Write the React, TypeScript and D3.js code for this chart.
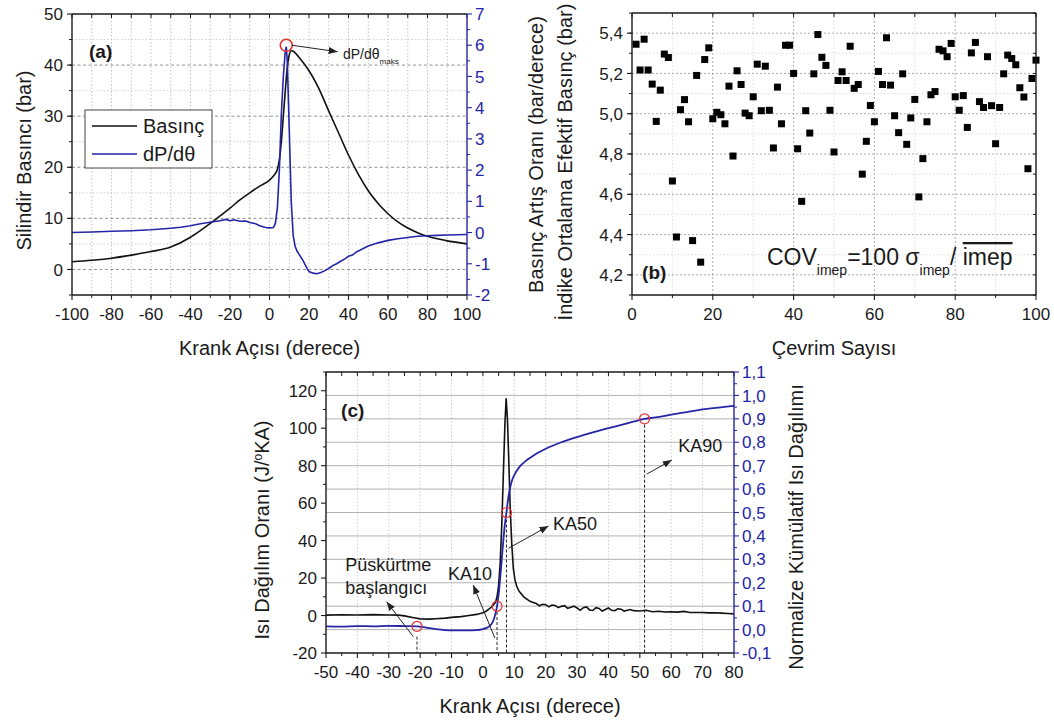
import React from "react";
import * as d3 from "d3";

const FONT = "'Liberation Sans', Arial, Helvetica, sans-serif";
const BLUE = "#2525a8";
const RED = "#e3342f";
const INK = "#1a1a1a";

const locale = d3.formatLocale({ decimal: ",", thousands: ".", grouping: [3], currency: ["", ""], minus: "-" });
const fmtInt = locale.format("d");
const fmt1 = locale.format(".1f");

// ---------- Panel (a): cylinder pressure & dP/dθ ----------
const aCrankP = [-100, -90, -80, -70, -60, -50, -40, -35, -30, -25, -20, -15, -10, -5, 0, 2, 3, 4, 5, 6, 7, 8, 9, 10, 11, 12, 13, 15, 18, 20, 25, 30, 35, 40, 45, 50, 55, 60, 65, 70, 75, 80, 85, 90, 95, 100];
const aPressure = [1.5, 1.8, 2.2, 2.8, 3.5, 4.4, 6.3, 7.6, 9.0, 10.5, 12.0, 13.6, 15.0, 16.3, 17.5, 18.3, 18.8, 19.6, 21.5, 25, 30, 35, 39.5, 42, 42.8, 42.7, 42.4, 41.5, 40.0, 38.9, 35.4, 31.0, 26.7, 22.4, 18.6, 15.4, 12.9, 10.9, 9.3, 8.1, 7.2, 6.5, 6.0, 5.6, 5.3, 5.0];
const aCrankD = [-100, -90, -80, -70, -60, -50, -45, -40, -35, -30, -27, -25, -22, -20, -18, -15, -12, -10, -7, -5, -2, 0, 2, 3, 4, 5, 6, 7, 8, 8.5, 9, 10, 11, 12, 13, 14, 15, 17, 19, 20, 22, 24, 26, 28, 30, 32, 34, 36, 38, 40, 42, 44, 46, 50, 55, 60, 65, 70, 75, 80, 85, 90, 95, 100];
const aRate = [0.0, 0.02, 0.04, 0.06, 0.09, 0.14, 0.17, 0.22, 0.28, 0.33, 0.36, 0.38, 0.42, 0.38, 0.41, 0.36, 0.37, 0.32, 0.28, 0.22, 0.16, 0.15, 0.16, 0.3, 0.8, 2.0, 3.8, 5.0, 5.8, 5.95, 5.5, 3.3, 1.0, -0.1, -0.45, -0.6, -0.7, -0.9, -1.15, -1.25, -1.3, -1.32, -1.28, -1.22, -1.15, -1.06, -1.0, -0.92, -0.85, -0.76, -0.72, -0.62, -0.56, -0.43, -0.33, -0.25, -0.2, -0.16, -0.12, -0.1, -0.09, -0.08, -0.07, -0.06];
const aPeak = { x: 8.5, v: 6.0 };

// ---------- Panel (b): imep per cycle ----------
const bImep = [5.345, 5.217, 5.37, 5.217, 5.147, 4.962, 5.117, 5.296, 5.279, 4.666,
  4.388, 5.02, 5.07, 4.96, 4.37, 5.19, 4.263, 5.269, 5.327, 4.975,
  5.007, 4.995, 4.95, 5.137, 4.79, 5.213, 5.145, 5.003, 4.99, 5.084,
  5.246, 5.015, 5.236, 5.017, 4.83, 5.132, 4.95, 5.34, 5.34, 5.2,
  4.826, 4.565, 5.015, 4.904, 5.198, 5.393, 5.28, 5.24, 5.017, 4.81,
  5.165, 5.208, 5.165, 5.335, 5.126, 5.145, 4.70, 4.863, 5.041, 4.96,
  5.21, 5.145, 5.377, 5.142, 4.99, 4.906, 5.198, 4.848, 4.979, 5.071,
  4.587, 4.777, 4.96, 5.094, 5.11, 5.32, 5.312, 5.283, 5.349, 5.084,
  5.017, 5.09, 4.932, 5.302, 5.354, 5.06, 5.031, 5.283, 5.04, 4.851,
  5.031, 5.198, 5.291, 5.274, 5.243, 5.129, 5.083, 4.727, 5.175, 5.266];

// ---------- Panel (c): heat release ----------
const cCrankH = [-50, -45, -40, -35, -30, -27, -25, -22, -20, -17, -15, -12, -10, -7, -5, -2, 0, 1, 2, 3,
  4, 4.5, 5, 5.5, 6, 6.5, 7, 7.4, 7.8, 8.2, 8.7, 9.2, 9.7, 10.2, 10.8, 11.5, 12, 13, 14,
  15, 16, 17, 18, 19, 20, 21, 22, 23, 24, 25, 26, 27, 28, 29, 30, 31, 32, 33, 34, 35, 36, 37, 38, 39, 40, 41, 42, 43, 44, 45, 46, 47, 48,
  50, 52, 54, 56, 58, 60, 62, 64, 66, 68, 70, 72, 74, 76, 78, 80];
const cHrr = [0.2, 0.4, 0.3, 0.5, 0.3, 0.2, -0.2, -1.2, -1.8, -1.9, -1.7, -1.4, -1.0, -0.6, -0.1, 0.6, 1.5, 2.3, 3.5, 5.0,
  7, 10, 16, 28, 48, 75, 102, 116, 105, 85, 57, 38, 25, 19, 15.5, 13, 12, 10, 8.8,
  7.6, 7.0, 6.4, 5.2, 6.0, 5.8, 4.6, 5.6, 5.4, 4.2, 4.9, 5.3, 3.8, 4.4, 5.0, 4.0, 2.8, 4.2, 4.6, 3.0, 2.7, 4.2, 3.8, 2.4, 3.2, 4.0, 2.8, 2.6, 3.6, 3.4, 2.4, 2.8, 3.2, 2.6,
  2.4, 2.8, 2.0, 2.3, 1.9, 2.0, 1.8, 2.2, 1.6, 1.6, 1.6, 1.4, 1.5, 1.3, 1.1, 0.9];
const cCrankQ = [-50, -45, -40, -35, -30, -25, -21, -18, -15, -12, -10, -5, -2, 0, 1, 2, 3, 3.5, 4, 4.5, 5, 5.5, 6, 6.5, 7, 7.5, 8, 8.5, 9, 9.5, 10, 11, 12, 14, 16, 18, 20, 25, 30, 35, 40, 45, 51.5, 55, 60, 65, 70, 75, 80];
const cCum = [0.014, 0.013, 0.015, 0.014, 0.016, 0.015, 0.014, 0.008, 0.002, -0.002, -0.003, -0.003, -0.002, 0.002, 0.006, 0.014, 0.03, 0.045, 0.068, 0.1, 0.15, 0.22, 0.3, 0.38, 0.45, 0.5, 0.555, 0.595, 0.625, 0.645, 0.66, 0.683, 0.70, 0.724, 0.742, 0.758, 0.772, 0.80, 0.822, 0.842, 0.86, 0.877, 0.9, 0.906, 0.918, 0.929, 0.94, 0.948, 0.956];
const cMarkX = [-21, 4.5, 7.5, 51.5];
const cMarkC = [0.014, 0.1, 0.5, 0.9];
const cDropTop = [-0.03, 0.075, 0.47, 0.875];

// ---------- layout ----------
const PA = { l: 72, r: 467, t: 14, b: 295 };
const PB = { l: 632, r: 1036, t: 13, b: 295 };
const PC = { l: 326, r: 734, t: 372, b: 653 };

const ax = d3.scaleLinear().domain([-100, 100]).range([PA.l, PA.r]);
const ayL = d3.scaleLinear().domain([-5, 50]).range([PA.b, PA.t]);
const ayR = d3.scaleLinear().domain([-2, 7]).range([PA.b, PA.t]);
const bx = d3.scaleLinear().domain([0, 100]).range([PB.l, PB.r]);
const by = d3.scaleLinear().domain([4.1, 5.5]).range([PB.b, PB.t]);
const cx = d3.scaleLinear().domain([-50, 80]).range([PC.l, PC.r]);
const cyL = d3.scaleLinear().domain([-20, 130]).range([PC.b, PC.t]);
const cyR = d3.scaleLinear().domain([-0.1, 1.1]).range([PC.b, PC.t]);

function rng(a: number, b: number, s: number) {
  const out: number[] = [];
  const n = Math.round((b - a) / s);
  for (let i = 0; i <= n; i++) out.push(+(a + i * s).toFixed(6));
  return out;
}

type S = d3.ScaleLinear<number, number>;

function BottomAxis({ x, y, major, minor, fmt }: { x: S; y: number; major: number[]; minor: number[]; fmt: (v: number) => string }) {
  const [x0, x1] = x.range();
  return (
    <g>
      {minor.map((v) => <line key={"m" + v} x1={x(v)} x2={x(v)} y1={y} y2={y + 3} stroke={INK} strokeWidth={1} />)}
      {major.map((v) => <line key={"M" + v} x1={x(v)} x2={x(v)} y1={y} y2={y + 5} stroke={INK} strokeWidth={1.1} />)}
      <line x1={x0} x2={x1} y1={y} y2={y} stroke={INK} strokeWidth={1.4} />
      {major.map((v) => <text key={"t" + v} x={x(v)} y={y + 25} textAnchor="middle" fontSize={17} fill={INK}>{fmt(v)}</text>)}
    </g>
  );
}

function TopAxis({ x, y, ticks }: { x: S; y: number; ticks: number[] }) {
  const [x0, x1] = x.range();
  return (
    <g>
      {ticks.map((v) => <line key={"k" + v} x1={x(v)} x2={x(v)} y1={y} y2={y + 4} stroke={INK} strokeWidth={1} />)}
      <line x1={x0} x2={x1} y1={y} y2={y} stroke={INK} strokeWidth={1.4} />
    </g>
  );
}

function VAxis({ s, x, major, minor, fmt, side, color, labels, inward }: { s: S; x: number; major: number[]; minor: number[]; fmt: (v: number) => string; side: "left" | "right"; color: string; labels: boolean; inward?: boolean }) {
  const [y0, y1] = s.range();
  const dir = (side === "left" ? -1 : 1) * (inward ? -1 : 1);
  return (
    <g>
      {minor.map((v) => <line key={"m" + v} x1={x} x2={x + dir * 3} y1={s(v)} y2={s(v)} stroke={color} strokeWidth={1} />)}
      {major.map((v) => <line key={"M" + v} x1={x} x2={x + dir * 5} y1={s(v)} y2={s(v)} stroke={color} strokeWidth={1.1} />)}
      <line x1={x} x2={x} y1={y0} y2={y1} stroke={color} strokeWidth={1.4} />
      {labels && major.map((v) => (
        <text key={"t" + v} x={side === "left" ? x - 9 : x + 8} y={s(v)} dy="0.36em" textAnchor={side === "left" ? "end" : "start"} fontSize={17} fill={color}>{fmt(v)}</text>
      ))}
    </g>
  );
}

function Arrow({ x1, y1, x2, y2 }: { x1: number; y1: number; x2: number; y2: number }) {
  return <line x1={x1} y1={y1} x2={x2} y2={y2} stroke="#222" strokeWidth={1} markerEnd="url(#ah)" />;
}

export default function App() {
  const lineP = d3.line<number>().x((_, i) => ax(aCrankP[i])).y((d) => ayL(d)).curve(d3.curveMonotoneX);
  const lineD = d3.line<number>().x((_, i) => ax(aCrankD[i])).y((d) => ayR(d)).curve(d3.curveLinear);
  const lineH = d3.line<number>().x((_, i) => cx(cCrankH[i])).y((d) => cyL(d)).curve(d3.curveLinear);
  const lineQ = d3.line<number>().x((_, i) => cx(cCrankQ[i])).y((d) => cyR(d)).curve(d3.curveMonotoneX);

  const sq = 7;

  return (
    <svg width={1054} height={726} style={{ position: "absolute", left: 0, top: 0, fontFamily: FONT }}>
      <defs>
        <marker id="ah" markerUnits="userSpaceOnUse" markerWidth={10} markerHeight={8} refX={9} refY={3.5} orient="auto">
          <path d="M0,0 L9,3.5 L0,7 z" fill="#222" />
        </marker>
        <clipPath id="clipA"><rect x={PA.l} y={PA.t} width={PA.r - PA.l} height={PA.b - PA.t} /></clipPath>
        <clipPath id="clipC"><rect x={PC.l} y={PC.t} width={PC.r - PC.l} height={PC.b - PC.t} /></clipPath>
      </defs>
      <rect x={0} y={0} width={1054} height={726} fill="#fff" />

      {/* ================= Panel (a) ================= */}
      <g>
        {rng(-90, 90, 10).map((v) => <line key={"gx" + v} x1={ax(v)} x2={ax(v)} y1={PA.t} y2={PA.b} stroke="#b5b5b5" strokeWidth={0.8} strokeDasharray="1.5,2" />)}
        {rng(0, 45, 5).map((v) => (
          <line key={"gy" + v} x1={PA.l} x2={PA.r} y1={ayL(v)} y2={ayL(v)} stroke={v % 10 === 0 ? "#777" : "#c4c4c4"} strokeWidth={0.8} strokeDasharray={v % 10 === 0 ? "3,2.5" : "1.5,2"} />
        ))}
        <g clipPath="url(#clipA)">
          <path d={lineP(aPressure) || ""} fill="none" stroke="#111" strokeWidth={1.6} />
          <path d={lineD(aRate) || ""} fill="none" stroke={BLUE} strokeWidth={1.6} />
        </g>
        <circle cx={ax(aPeak.x)} cy={ayR(aPeak.v)} r={6} fill="none" stroke={RED} strokeWidth={1.6} />
        <Arrow x1={ax(11.3)} y1={ayR(6.0)} x2={ax(34.5)} y2={ayR(5.79)} />
        <text x={ax(37.2)} y={ayR(5.57)} fontSize={14} fill={INK}>dP/dθ<tspan fontSize={8} dy={5}>maks</tspan></text>
        <text x={ax(-91.4)} y={ayL(41.4)} fontSize={19} fontWeight="bold" fill={INK}>(a)</text>

        <g>
          <rect x={PA.l + 13} y={PA.t + 96} width={127} height={58} fill="#fff" stroke="#444" strokeWidth={1} />
          <line x1={PA.l + 20} x2={PA.l + 65} y1={PA.t + 112} y2={PA.t + 112} stroke="#111" strokeWidth={1.6} />
          <text x={PA.l + 71} y={PA.t + 119} fontSize={20} fill={INK}>Basınç</text>
          <line x1={PA.l + 20} x2={PA.l + 65} y1={PA.t + 140} y2={PA.t + 140} stroke={BLUE} strokeWidth={1.6} />
          <text x={PA.l + 71} y={PA.t + 147} fontSize={20} fill={INK}>dP/dθ</text>
        </g>

        <TopAxis x={ax} y={PA.t} ticks={rng(-100, 100, 10)} />
        <BottomAxis x={ax} y={PA.b} major={rng(-100, 100, 20)} minor={rng(-90, 90, 10)} fmt={fmtInt} />
        <VAxis s={ayL} x={PA.l} major={rng(0, 50, 10)} minor={rng(-5, 45, 5)} fmt={fmtInt} side="left" color={INK} labels />
        <VAxis s={ayR} x={PA.r} major={rng(-2, 7, 1)} minor={rng(-1.5, 6.5, 1)} fmt={fmtInt} side="right" color={BLUE} labels />

        <text x={(PA.l + PA.r) / 2} y={355} textAnchor="middle" fontSize={20} fill={INK}>Krank Açısı (derece)</text>
        <text transform={`translate(24,${(PA.t + PA.b) / 2 + 6}) rotate(-90)`} textAnchor="middle" dy="0.35em" fontSize={20} fill={INK}>Silindir Basıncı (bar)</text>
        <text transform={`translate(536,${(PA.t + PA.b) / 2}) rotate(-90)`} textAnchor="middle" dy="0.35em" fontSize={20} fill={INK}>Basınç Artış Oranı (bar/derece)</text>
      </g>

      {/* ================= Panel (b) ================= */}
      <g>
        {rng(10, 90, 10).map((v) => (
          <line key={"bgx" + v} x1={bx(v)} x2={bx(v)} y1={PB.t} y2={PB.b} stroke={v % 20 === 0 ? "#999" : "#d6d6d6"} strokeWidth={0.8} strokeDasharray={v % 20 === 0 ? "2,2" : "1.5,2"} />
        ))}
        {rng(4.2, 5.4, 0.1).map((v, i) => (
          <line key={"bgy" + v} x1={PB.l} x2={PB.r} y1={by(v)} y2={by(v)} stroke={i % 2 === 0 ? "#999" : "#d6d6d6"} strokeWidth={0.8} strokeDasharray={i % 2 === 0 ? "2,2" : "1.5,2"} />
        ))}
        {bImep.map((v, i) => (
          <rect key={"pt" + i} x={bx(i + 1) - sq / 2} y={by(v) - sq / 2} width={sq} height={sq} fill="#000" />
        ))}
        <text x={bx(33.4)} y={by(4.249)} fontSize={23} fill={INK}>
          COV<tspan fontSize={14} dy={10}>imep</tspan>
          <tspan fontSize={23} dy={-10}>=100 σ</tspan>
          <tspan fontSize={14} dy={10}>imep</tspan>
          <tspan fontSize={23} dy={-10}>/ </tspan>
          <tspan fontSize={23} style={{ textDecoration: "overline" }}>imep</tspan>
        </text>
        <text x={bx(2.5)} y={by(4.18)} fontSize={19} fontWeight="bold" fill={INK}>(b)</text>

        <TopAxis x={bx} y={PB.t} ticks={rng(0, 100, 10)} />
        <BottomAxis x={bx} y={PB.b} major={rng(0, 100, 20)} minor={rng(10, 90, 20)} fmt={fmtInt} />
        <VAxis s={by} x={PB.l} major={rng(4.2, 5.4, 0.2)} minor={rng(4.1, 5.5, 0.1)} fmt={fmt1} side="left" color={INK} labels />
        <VAxis s={by} x={PB.r} major={[]} minor={rng(4.1, 5.5, 0.1)} fmt={fmt1} side="right" color={INK} labels={false} inward />

        <text x={(PB.l + PB.r) / 2} y={355} textAnchor="middle" fontSize={20} fill={INK}>Çevrim Sayısı</text>
        <text transform={`translate(565,162) rotate(-90)`} textAnchor="middle" dy="0.35em" fontSize={20} fill={INK}>İndike Ortalama Efektif Basınç (bar)</text>
      </g>

      {/* ================= Panel (c) ================= */}
      <g>
        {rng(-40, 70, 10).map((v) => <line key={"cgx" + v} x1={cx(v)} x2={cx(v)} y1={PC.t} y2={PC.b} stroke="#c2c2c2" strokeWidth={0.8} strokeDasharray="1.5,2" />)}
        {rng(0, 1.0, 0.1).map((v) => <line key={"cgy" + v} x1={PC.l} x2={PC.r} y1={cyR(v)} y2={cyR(v)} stroke="#a9a9a9" strokeWidth={0.9} />)}

        {cMarkX.map((v, i) => (
          <line key={"drop" + i} x1={cx(v)} x2={cx(v)} y1={cyR(cDropTop[i])} y2={PC.b} stroke="#222" strokeWidth={1} strokeDasharray="3,2" />
        ))}

        <g clipPath="url(#clipC)">
          <path d={lineH(cHrr) || ""} fill="none" stroke="#111" strokeWidth={1.6} />
          <path d={lineQ(cCum) || ""} fill="none" stroke={BLUE} strokeWidth={1.8} />
        </g>
        {cMarkX.map((v, i) => (
          <circle key={"mk" + i} cx={cx(v)} cy={cyR(cMarkC[i])} r={5} fill="none" stroke={RED} strokeWidth={1.2} />
        ))}

        <Arrow x1={cx(-22.2)} y1={cyR(-0.03)} x2={cx(-30.7)} y2={cyR(0.119)} />
        <Arrow x1={cx(3.8)} y1={cyR(-0.036)} x2={cx(-3.1)} y2={cyR(0.19)} />
        <Arrow x1={cx(8.1)} y1={cyR(0.347)} x2={cx(20.9)} y2={cyR(0.442)} />
        <Arrow x1={cx(52.2)} y1={cyR(0.664)} x2={cx(60.2)} y2={cyR(0.724)} />

        <text x={cx(-43.9)} y={cyR(0.25)} fontSize={18} fill={INK}>Püskürtme</text>
        <text x={cx(-43.9)} y={cyR(0.152)} fontSize={18} fill={INK}>başlangıcı</text>
        <text x={cx(-11.1)} y={cyR(0.212)} fontSize={18} fill={INK}>KA10</text>
        <text x={cx(22.3)} y={cyR(0.425)} fontSize={18} fill={INK}>KA50</text>
        <text x={cx(62.2)} y={cyR(0.758)} fontSize={18} fill={INK}>KA90</text>
        <text x={cx(-45.2)} y={cyR(0.908)} fontSize={19} fontWeight="bold" fill={INK}>(c)</text>

        <TopAxis x={cx} y={PC.t} ticks={rng(-50, 80, 5)} />
        <BottomAxis x={cx} y={PC.b} major={rng(-50, 80, 10)} minor={rng(-45, 75, 10)} fmt={fmtInt} />
        <VAxis s={cyL} x={PC.l} major={rng(-20, 120, 20)} minor={rng(-10, 130, 20)} fmt={fmtInt} side="left" color={INK} labels />
        <VAxis s={cyR} x={PC.r} major={rng(-0.1, 1.1, 0.1)} minor={rng(-0.05, 1.05, 0.1)} fmt={fmt1} side="right" color={BLUE} labels />

        <text x={(PC.l + PC.r) / 2} y={713} textAnchor="middle" fontSize={20} fill={INK}>Krank Açısı (derece)</text>
        <text transform={`translate(262,530) rotate(-90)`} textAnchor="middle" dy="0.35em" fontSize={20} fill={INK}>
          Isı Dağılım Oranı (J/<tspan fontSize={12} dy={-7}>o</tspan><tspan dy={7}>KA)</tspan>
        </text>
        <text transform={`translate(796,527) rotate(-90)`} textAnchor="middle" dy="0.35em" fontSize={20} fill={INK}>Normalize Kümülatif Isı Dağılımı</text>
      </g>
    </svg>
  );
}
